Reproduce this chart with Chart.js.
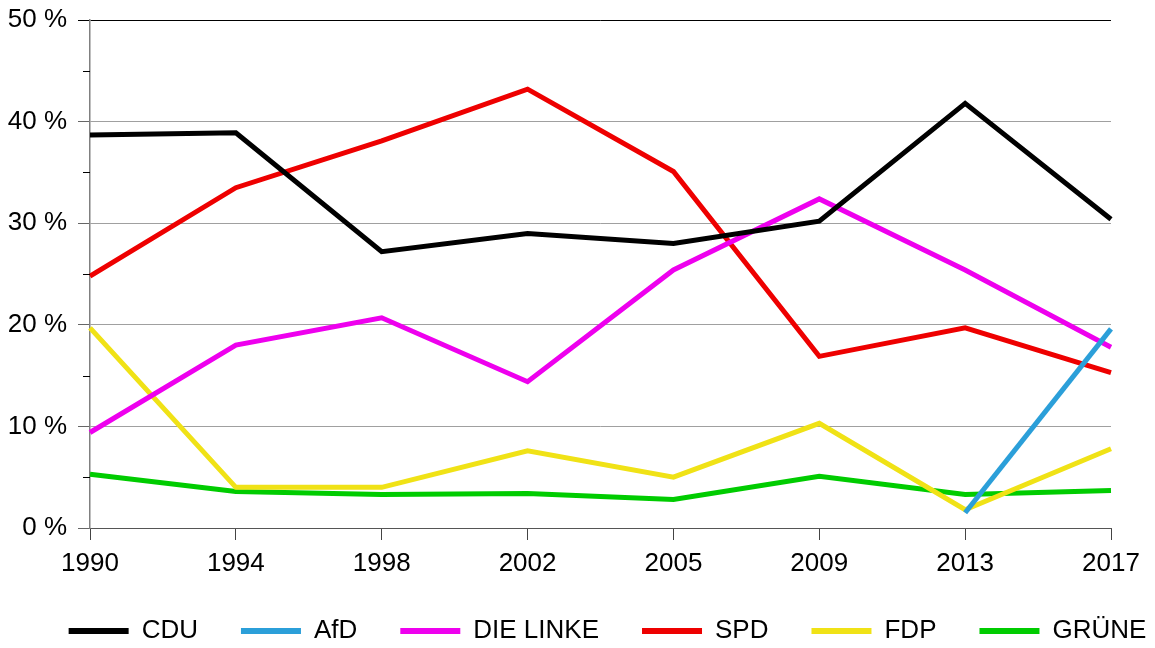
<!DOCTYPE html>
<html>
<head>
<meta charset="utf-8">
<script src="https://cdn.jsdelivr.net/npm/chart.js@4/dist/chart.umd.min.js"></script>
<style>
  html, body { margin: 0; padding: 0; background: #fff; }
  canvas { display: block; }
</style>
</head>
<body>
<canvas id="chart" width="1155" height="648"></canvas>
<script>
const years = ['1990', '1994', '1998', '2002', '2005', '2009', '2013', '2017'];
const cdu = [38.7, 38.9, 27.2, 29.0, 28.0, 30.2, 41.8, 30.4];
const afd = [null, null, null, null, null, null, 1.5, 19.6];
const linke = [9.4, 18.0, 20.7, 14.4, 25.4, 32.4, 25.4, 17.8];
const spd = [24.8, 33.5, 38.1, 43.2, 35.1, 16.9, 19.7, 15.3];
const fdp = [19.7, 4.0, 4.0, 7.6, 5.0, 10.3, 1.8, 7.8];
const gruene = [5.3, 3.6, 3.3, 3.4, 2.8, 5.1, 3.3, 3.7];
const minorTickValues = [5, 15, 25, 35, 45];

const font = { family: 'Liberation Sans, Arial, sans-serif', size: 26 };
// tighter line height on the y labels so the top label does not push the plot down
const yFont = { family: 'Liberation Sans, Arial, sans-serif', size: 26, lineHeight: 0.7 };

function series(label, data, color) {
  return { label, data, borderColor: color, backgroundColor: color, borderWidth: 5,
           pointRadius: 0, tension: 0, fill: false };
}

// short minor ticks on the left axis at the 5 % marks
const minorTicks = {
  id: 'minorTicks',
  afterDraw(chart) {
    const y = chart.scales.y;
    const ctx = chart.ctx;
    ctx.save();
    ctx.strokeStyle = '#000';
    ctx.lineWidth = 1;
    minorTickValues.forEach(v => {
      const py = Math.round(y.getPixelForValue(v)) + 0.5;
      ctx.beginPath();
      ctx.moveTo(y.right - 7, py);
      ctx.lineTo(y.right, py);
      ctx.stroke();
    });
    ctx.restore();
  }
};

// keep the wide legend on one row and nudge it to where the original has it
const legendTweak = {
  id: 'legendTweak',
  afterInit(chart) {
    const lg = chart.legend;
    const fitRows = lg._fitRows;
    lg._fitRows = function() {
      const mw = this.maxWidth;
      this.maxWidth = mw + 60;
      const h = fitRows.apply(this, arguments);
      this.maxWidth = mw;
      return h;
    };
  },
  afterLayout(chart) {
    const lg = chart.legend;
    lg.left += 24; lg.right += 36;
    lg.top += 6; lg.bottom += 6;
    // let the year labels run below the (short) x axis box without clipping
    chart.scales.x.bottom += 14;
  }
};

const ctx = document.getElementById('chart').getContext('2d');
new Chart(ctx, {
  type: 'line',
  data: {
    labels: years,
    datasets: [
      series('CDU', cdu, '#000000'),
      series('AfD', afd, '#2b9fd9'),
      series('DIE LINKE', linke, '#ee00ee'),
      series('SPD', spd, '#ee0000'),
      series('FDP', fdp, '#f0e216'),
      series('GRÜNE', gruene, '#00cc00')
    ]
  },
  options: {
    responsive: false,
    animation: false,
    devicePixelRatio: 1,
    layout: { padding: { left: 0, right: 0, top: 14, bottom: 0 } },
    plugins: {
      tooltip: { enabled: false },
      legend: {
        position: 'bottom',
        labels: {
          font: font,
          color: '#000',
          boxWidth: 60,
          boxHeight: 6,
          padding: 43,
          generateLabels: (chart) => Chart.defaults.plugins.legend.labels.generateLabels(chart)
            .map(l => Object.assign(l, { fillStyle: l.strokeStyle, lineWidth: 0 }))
        }
      }
    },
    scales: {
      x: {
        offset: false,
        grid: { drawOnChartArea: false, drawTicks: true, tickLength: 12, tickColor: '#444' },
        border: { color: '#555' },
        ticks: { font: font, color: '#000', padding: 8, maxRotation: 0 },
        afterFit: (s) => { s.height = 41; }
      },
      y: {
        min: 0,
        max: 50,
        ticks: { stepSize: 10, font: yFont, color: '#000', padding: 11,
                 callback: (v) => v + ' %' },
        grid: {
          tickLength: 12,
          color: (c) => c.tick.value === 50 ? '#000' : (c.tick.value === 0 ? '#555' : '#a0a0a0'),
          tickColor: (c) => c.tick.value === 50 ? '#000' : '#666'
        },
        border: { color: '#808080', width: 1.5 },
        afterFit: (s) => { s.width = 90; }
      },
      yRight: {
        position: 'right',
        display: true,
        grid: { display: false, drawTicks: false },
        border: { display: false },
        ticks: { display: false },
        afterFit: (s) => { s.width = 44; }
      }
    }
  },
  plugins: [minorTicks, legendTweak]
});
</script>
</body>
</html>
